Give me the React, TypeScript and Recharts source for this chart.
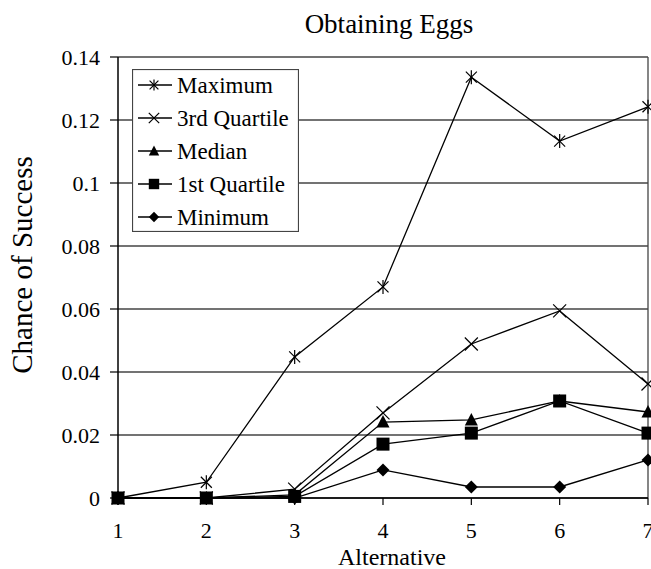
import React from 'react';
import { LineChart, Line, XAxis, YAxis, CartesianGrid, ReferenceLine, Legend } from 'recharts';

const alternatives = [1, 2, 3, 4, 5, 6, 7];
const maximum = [0, 0.005, 0.0448, 0.067, 0.1336, 0.1133, 0.1242];
const thirdQuartile = [0, 0, 0.0028, 0.027, 0.0489, 0.0594, 0.0362];
const median = [0, 0, 0.001, 0.0241, 0.0248, 0.0308, 0.0273];
const firstQuartile = [0, 0, 0.0005, 0.0171, 0.0206, 0.0308, 0.0206];
const minimum = [0, 0, 0, 0.0089, 0.0035, 0.0035, 0.0121];

const yTicks = [0, 0.02, 0.04, 0.06, 0.08, 0.1, 0.12, 0.14];
const yTickLabels = ['0', '0.02', '0.04', '0.06', '0.08', '0.1', '0.12', '0.14'];

const seriesNames = ['Maximum', '3rd Quartile', 'Median', '1st Quartile', 'Minimum'];
const chartTitle = 'Obtaining Eggs';
const xTitle = 'Alternative';
const yTitle = 'Chance of Success';

type Kind = 'asterisk' | 'cross' | 'triangle' | 'square' | 'diamond';

const series: { key: string; name: string; values: number[]; kind: Kind }[] = [
  { key: 'max', name: seriesNames[0], values: maximum, kind: 'asterisk' },
  { key: 'q3', name: seriesNames[1], values: thirdQuartile, kind: 'cross' },
  { key: 'med', name: seriesNames[2], values: median, kind: 'triangle' },
  { key: 'q1', name: seriesNames[3], values: firstQuartile, kind: 'square' },
  { key: 'min', name: seriesNames[4], values: minimum, kind: 'diamond' },
];

const data = alternatives.map((a, i) => {
  const row: Record<string, number> = { alt: a };
  series.forEach((s) => {
    row[s.key] = s.values[i];
  });
  return row;
});

const FONT = 'Liberation Serif, Times New Roman, DejaVu Serif, serif';

function Marker({ kind, cx, cy, k = 1 }: { kind: Kind; cx: number; cy: number; k?: number }) {
  if (cx == null || cy == null || isNaN(cx) || isNaN(cy)) return null;
  switch (kind) {
    case 'asterisk': {
      const s = 5.5 * k;
      const v = 7 * k;
      return (
        <g stroke="#000" strokeWidth={1.2}>
          <line x1={cx - s} y1={cy - s} x2={cx + s} y2={cy + s} />
          <line x1={cx - s} y1={cy + s} x2={cx + s} y2={cy - s} />
          <line x1={cx} y1={cy - v} x2={cx} y2={cy + v} />
        </g>
      );
    }
    case 'cross': {
      const s = 6.5 * k;
      return (
        <g stroke="#000" strokeWidth={1.2}>
          <line x1={cx - s} y1={cy - s} x2={cx + s} y2={cy + s} />
          <line x1={cx - s} y1={cy + s} x2={cx + s} y2={cy - s} />
        </g>
      );
    }
    case 'triangle': {
      const w = 6.5 * k;
      return (
        <polygon
          points={`${cx},${cy - 7 * k} ${cx - w},${cy + 5.5 * k} ${cx + w},${cy + 5.5 * k}`}
          fill="#000"
        />
      );
    }
    case 'square': {
      const s = 6.5 * k;
      return <rect x={cx - s} y={cy - s} width={2 * s} height={2 * s} fill="#000" />;
    }
    case 'diamond': {
      const s = 6.5 * k;
      return (
        <polygon points={`${cx},${cy - s} ${cx + s},${cy} ${cx},${cy + s} ${cx - s},${cy}`} fill="#000" />
      );
    }
  }
  return null;
}

function LegendBox() {
  const w = 167;
  const h = 163;
  const rowY = [16, 49, 82, 115, 148];
  return (
    <svg width={w} height={h} style={{ display: 'block', fontFamily: FONT }}>
      <rect x={0.5} y={0.5} width={w - 1} height={h - 1} fill="#fff" stroke="#444" strokeWidth={1.2} />
      {series.map((s, i) => (
        <g key={s.key}>
          <line x1={6} y1={rowY[i]} x2={40} y2={rowY[i]} stroke="#000" strokeWidth={1.3} />
          <Marker kind={s.kind} cx={22} cy={rowY[i]} k={0.8} />
          <text x={45} y={rowY[i] + 8} style={{ fontFamily: FONT, fontSize: 23 }} fill="#000">
            {s.name}
          </text>
        </g>
      ))}
    </svg>
  );
}

const tickStyle = { fill: '#000', fontSize: 22, fontFamily: FONT, style: { fontFamily: FONT } };

export default function App() {
  return (
    <div style={{ position: 'relative', width: 651, height: 569, background: '#fff', fontFamily: FONT }}>
      <style>{'body{margin:0;}'}</style>
      <LineChart
        width={651}
        height={569}
        data={data}
        margin={{ top: 57, right: 3, left: 0, bottom: 0 }}
        style={{ fontFamily: FONT }}
      >
        <CartesianGrid vertical={false} stroke="#444" strokeWidth={1.3} />
        <XAxis
          dataKey="alt"
          type="number"
          domain={[1, 7]}
          ticks={alternatives}
          interval={0}
          height={71}
          tickSize={7}
          tickMargin={17}
          axisLine={{ stroke: '#000', strokeWidth: 1.5 }}
          tickLine={{ stroke: '#000', strokeWidth: 1.2 }}
          tick={tickStyle}
        />
        <YAxis
          type="number"
          domain={[0, 0.14]}
          ticks={yTicks}
          interval={0}
          width={118}
          tickSize={8}
          tickMargin={10}
          tickFormatter={(_v: number, i: number) => yTickLabels[i]}
          axisLine={{ stroke: '#000', strokeWidth: 1.5 }}
          tickLine={{ stroke: '#000', strokeWidth: 1.2 }}
          tick={tickStyle}
        />
        <ReferenceLine x={7} stroke="#444" strokeWidth={1.3} />
        {series.map((s) => (
          <Line
            key={s.key}
            dataKey={s.key}
            name={s.name}
            type="linear"
            stroke="#000"
            strokeWidth={1.3}
            isAnimationActive={false}
            dot={(p: any) => <Marker key={`${s.key}-${p.index}`} kind={s.kind} cx={p.cx} cy={p.cy} />}
            activeDot={false}
          />
        ))}
        <Legend
          layout="vertical"
          align="center"
          verticalAlign="middle"
          wrapperStyle={{ position: 'absolute', left: 132, top: 69, width: 167, height: 163 }}
          content={() => <LegendBox />}
        />
      </LineChart>
      <svg
        width={651}
        height={569}
        style={{ position: 'absolute', left: 0, top: 0, pointerEvents: 'none', fontFamily: FONT }}
      >
        <text x={389} y={33} textAnchor="middle" style={{ fontFamily: FONT, fontSize: 27 }} fill="#000">
          {chartTitle}
        </text>
        <text x={392} y={565} textAnchor="middle" style={{ fontFamily: FONT, fontSize: 24 }} fill="#000">
          {xTitle}
        </text>
        <text
          transform="translate(32,265) rotate(-90)"
          textAnchor="middle"
          style={{ fontFamily: FONT, fontSize: 29 }}
          fill="#000"
        >
          {yTitle}
        </text>
      </svg>
    </div>
  );
}
